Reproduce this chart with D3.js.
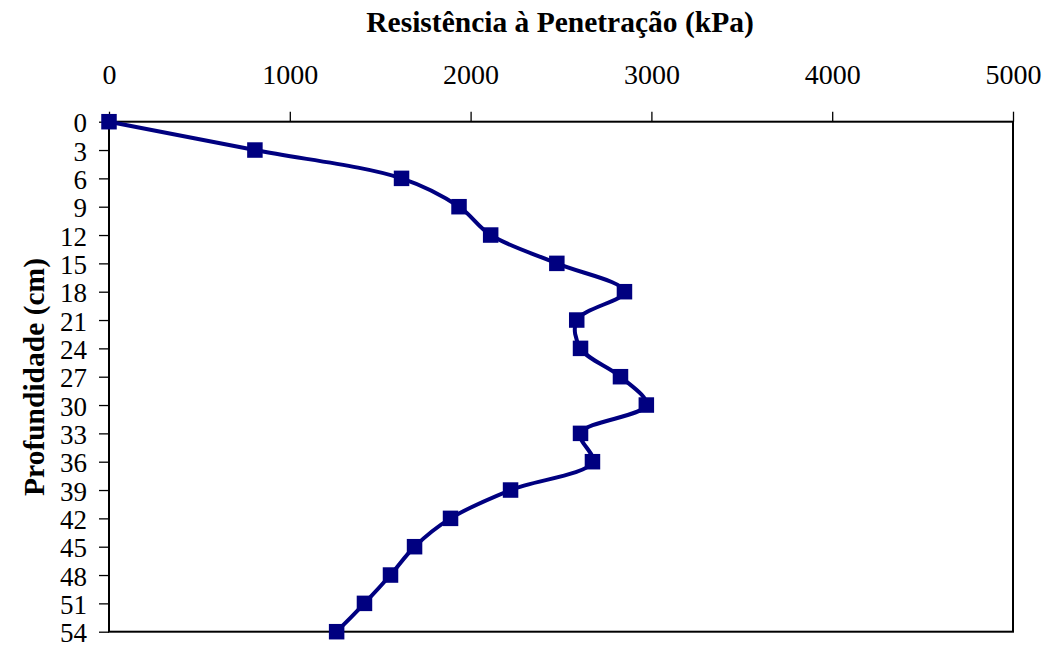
<!DOCTYPE html>
<html>
<head>
<meta charset="utf-8">
<script src="https://cdn.jsdelivr.net/npm/d3@7"></script>
<style>
  html, body { margin: 0; padding: 0; background: #fff; }
  svg { display: block; }
</style>
</head>
<body>
<svg id="chart" width="1051" height="647"></svg>
<script>
// Penetration resistance profile: depth (cm) vs resistance (kPa)
const depths = [0, 3, 6, 9, 12, 15, 18, 21, 24, 27, 30, 33, 36, 39, 42, 45, 48, 51, 54];
const resistance = [0, 807, 1618, 1936, 2111, 2477, 2851, 2587, 2608, 2829, 2972, 2608, 2674, 2221, 1889, 1690, 1557, 1413, 1259];
const xTicks = [0, 1000, 2000, 3000, 4000, 5000];
const yTicks = [0, 3, 6, 9, 12, 15, 18, 21, 24, 27, 30, 33, 36, 39, 42, 45, 48, 51, 54];

const titleX = "Resistência à Penetração (kPa)";
const titleY = "Profundidade (cm)";

const svg = d3.select("#chart");
const serif = "'Liberation Serif', 'Times New Roman', serif";
const navy = "#000080";

const plot = { left: 109, right: 1013, top: 121.7, bottom: 631.7 };

const x = d3.scaleLinear().domain([0, 5000]).range([plot.left, plot.right]);
const y = d3.scaleLinear().domain([0, 54]).range([plot.top, plot.bottom]);

// Top axis (resistance)
const gx = svg.append("g")
  .attr("transform", `translate(0,${plot.top})`)
  .call(d3.axisTop(x).tickValues(xTicks).tickSize(10).tickPadding(28).tickFormat(d3.format("d")));
gx.select(".domain").remove();
gx.selectAll(".tick line").attr("stroke", "#000").attr("stroke-width", 1.3);
gx.selectAll(".tick text")
  .attr("font-family", serif).attr("font-size", 28).attr("fill", "#000");

// Left axis (depth, increasing downward)
const gy = svg.append("g")
  .attr("transform", `translate(${plot.left},0)`)
  .call(d3.axisLeft(y).tickValues(yTicks).tickSize(10).tickPadding(12).tickFormat(d3.format("d")));
gy.select(".domain").remove();
gy.selectAll(".tick line").attr("stroke", "#000").attr("stroke-width", 1.3);
gy.selectAll(".tick text")
  .attr("font-family", serif).attr("font-size", 27).attr("fill", "#000")
  .attr("dy", "0.38em");

// Plot frame
svg.append("rect")
  .attr("x", plot.left).attr("y", plot.top)
  .attr("width", plot.right - plot.left).attr("height", plot.bottom - plot.top)
  .attr("fill", "none").attr("stroke", "#000").attr("stroke-width", 2);

// Smoothed profile line
const pts = depths.map((d, i) => ({ depth: d, value: resistance[i] }));
const line = d3.line()
  .x(d => x(d.value))
  .y(d => y(d.depth))
  .curve(d3.curveCatmullRom.alpha(0.5));

svg.append("path")
  .datum(pts)
  .attr("d", line)
  .attr("fill", "none")
  .attr("stroke", navy)
  .attr("stroke-width", 4)
  .attr("stroke-linejoin", "round");

// Square markers
const ms = 15.5;
svg.append("g").selectAll("rect")
  .data(pts)
  .join("rect")
  .attr("x", d => x(d.value) - ms / 2)
  .attr("y", d => y(d.depth) - ms / 2)
  .attr("width", ms).attr("height", ms)
  .attr("fill", navy);

// Axis titles
svg.append("text")
  .attr("x", 560).attr("y", 32)
  .attr("text-anchor", "middle")
  .attr("font-family", serif).attr("font-size", 29.5).attr("font-weight", "bold")
  .text(titleX);

svg.append("text")
  .attr("transform", "translate(44,377) rotate(-90)")
  .attr("text-anchor", "middle")
  .attr("font-family", serif).attr("font-size", 29.5).attr("font-weight", "bold")
  .text(titleY);
</script>
</body>
</html>
